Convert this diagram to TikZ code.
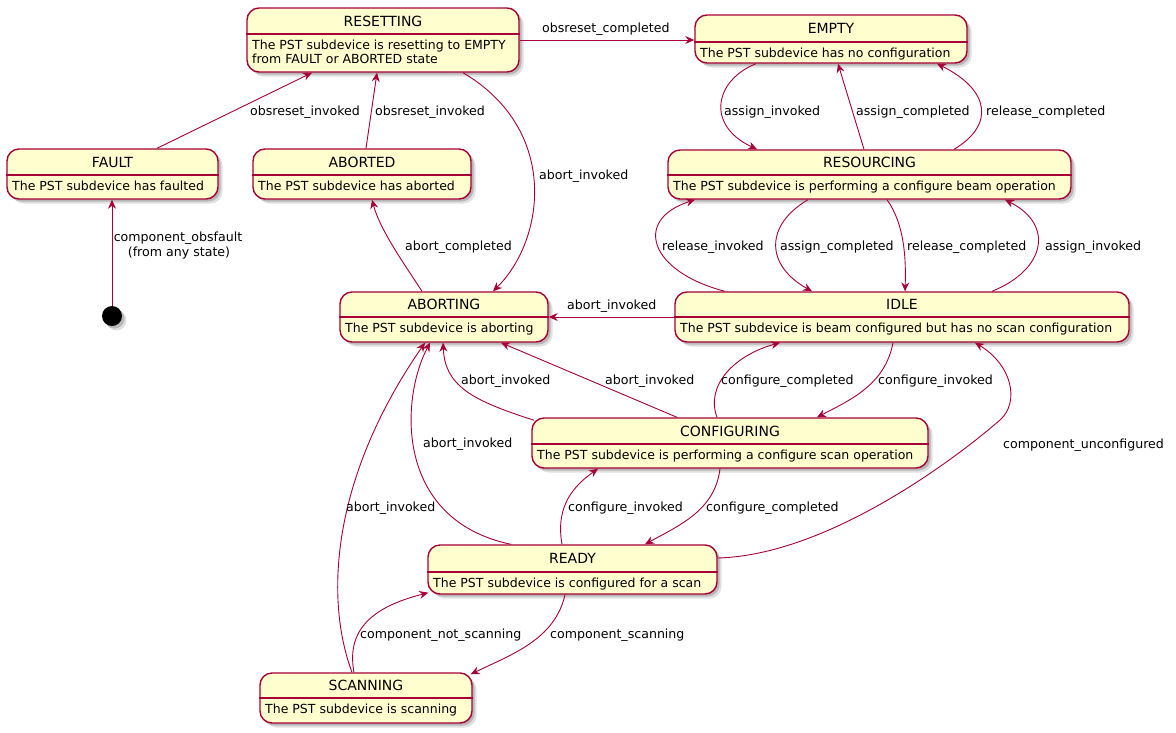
\documentclass[tikz,border=0pt]{standalone}
\usepackage{fontspec}
\setmainfont{DejaVu Sans}
\usetikzlibrary{arrows.meta,shadows}
\definecolor{stfill}{HTML}{FEFECE}
\definecolor{stline}{HTML}{A80036}
\tikzset{
 softshadow/.style={
   drop shadow={shadow xshift=4.5pt, shadow yshift=-4.5pt, opacity=0.12, fill=black},
   drop shadow={shadow xshift=2.5pt, shadow yshift=-2.5pt, opacity=0.18, fill=black}},
 statebox/.style={draw=stline, fill=stfill, line width=1.4pt, rounded corners=12pt, inner sep=0pt, softshadow},
 sepline/.style={draw=stline, line width=1.2pt},
 titletext/.style={font=\fontsize{14}{16}\selectfont, inner sep=0pt, anchor=base},
 bodytext/.style={font=\fontsize{12.5}{15}\selectfont, inner sep=0pt, anchor=base west},
 lbl/.style={font=\fontsize{12.6}{15}\selectfont, inner sep=0pt, anchor=base west},
 lblc/.style={font=\fontsize{12.6}{15}\selectfont, inner sep=0pt, anchor=base},
 conn/.style={draw=stline, line width=0.9pt, -{Stealth[length=9pt, width=8pt, inset=3pt]}},
 initdot/.style={circle, fill=black, minimum size=20pt, inner sep=0pt, softshadow},
}
\newcommand\stbox[8]{%
 \node[statebox, minimum width={(#4-#2)*1pt}, minimum height={(#5-#3)*1pt}] (#1) at ({(#2+#4)/2},{(#3+#5)/2}) {};
 \draw[sepline] (#1.west |- 0,#6) -- (#1.east |- 0,#6);
 \node[titletext] (#1-t) at ({(#2+#4)/2},{(#3+#6)/2+5.2}) {#7};
 \node[bodytext] (#1-b) at ({#2+5},{#6+15}) {#8};
}
\begin{document}
\begin{tikzpicture}[x=1pt, y=-1pt]
\useasboundingbox (0,0) rectangle (1176,732);
\fill[white] (0,0) rectangle (1176,732);

% states
\stbox{resetting}{247}{8}{519}{72}{34}{RESETTING}{The PST subdevice is resetting to EMPTY}
\node[bodytext] (resetting-b2) at (252,63.5) {from FAULT or ABORTED state};
\stbox{empty}{695}{15}{967}{63}{42}{EMPTY}{The PST subdevice has no configuration}
\stbox{fault}{7}{149}{218}{199}{175}{FAULT}{The PST subdevice has faulted}
\stbox{aborted}{253}{149}{471}{199}{175}{ABORTED}{The PST subdevice has aborted}
\stbox{resourcing}{668}{150}{1071}{199}{175}{RESOURCING}{The PST subdevice is performing a configure beam operation}
\stbox{aborting}{340}{292}{548}{342}{317}{ABORTING}{The PST subdevice is aborting}
\stbox{idle}{675}{292}{1129}{342}{317}{IDLE}{The PST subdevice is beam configured but has no scan configuration}
\stbox{configuring}{532}{418}{928}{468}{444}{CONFIGURING}{The PST subdevice is performing a configure scan operation}
\stbox{ready}{428}{545}{717}{594}{572}{READY}{The PST subdevice is configured for a scan}
\stbox{scanning}{260}{673}{472}{723}{698}{SCANNING}{The PST subdevice is scanning}
\node[initdot] (init) at (112,316) {};

% transitions
\draw[conn] (resetting.east) -- (empty.west |- resetting.east);
\draw[conn] (fault.north -| 157,0) -- (resetting.south -| 312,0);
\draw[conn] (aborted.north -| 366,0) -- (resetting.south -| 377,0);
\draw[conn] (resetting.south -| 463,0) .. controls (560,130) and (545,240) .. (aborting.north -| 493,0);
\draw[conn] (aborting.north -| 422,0) .. controls (405,265) and (380,230) .. (aborted.south -| 372,0);
\draw[conn] (init) -- (fault.south -| init);
\draw[conn] (empty.south -| 756,0) .. controls (715,80) and (705,125) .. (resourcing.north -| 757,0);
\draw[conn] (resourcing.north -| 864,0) -- (empty.south -| 838,0);
\draw[conn] (resourcing.north -| 954,0) .. controls (995,125) and (990,90) .. (empty.south -| 937,0);
\draw[conn] (idle.north -| 725,0) .. controls (650,272) and (632,220) .. (resourcing.south -| 695,0);
\draw[conn] (resourcing.south -| 808,0) .. controls (765,225) and (765,265) .. (idle.north -| 812,0);
\draw[conn] (resourcing.south -| 887,0) .. controls (905,225) and (906,260) .. (idle.north -| 905,0);
\draw[conn] (idle.north -| 992,0) .. controls (1045,270) and (1055,225) .. (resourcing.south -| 1005,0);
\draw[conn] (idle.west) -- (aborting.east);
\draw[conn] (idle.south -| 893,0) .. controls (885,385) and (850,400) .. (configuring.north -| 817,0);
\draw[conn] (configuring.north -| 717,0) .. controls (705,385) and (735,355) .. (idle.south -| 780,0);
\draw[conn] ([xshift=3pt,yshift=-3pt]configuring.north west) .. controls (470,400) and (445,385) .. (aborting.south -| 443,0);
\draw[conn] (configuring.north -| 677,0) -- (aborting.south -| 501,0);
\draw[conn] (ready.north -| 511,0) .. controls (395,520) and (400,400) .. (aborting.south -| 430,0);
\draw[conn] (scanning.north -| 352,0) .. controls (325,600) and (330,480) .. (aborting.south -| 425,0);
\draw[conn] (configuring.south -| 720,0) .. controls (715,510) and (680,525) .. (ready.north -| 645,0);
\draw[conn] (ready.north -| 562,0) .. controls (555,505) and (575,485) .. (configuring.south -| 598,0);
\draw[conn] (ready.east |- 0,558) .. controls (830,555) and (960,455) .. (1000,420) .. controls (1020,402) and (1012,365) .. (idle.south -| 975,0);
\draw[conn] (ready.south -| 565,0) .. controls (555,640) and (510,655) .. ([xshift=-2pt,yshift=-2pt]scanning.north east);
\draw[conn] (scanning.north -| 354,0) .. controls (345,625) and (380,605) .. ([xshift=1pt,yshift=2pt]ready.south west);

% labels
\node[lbl] (l1) at (542,32) {obsreset\_completed};
\node[lbl] (l2) at (250,115) {obsreset\_invoked};
\node[lbl] (l3) at (375,115) {obsreset\_invoked};
\node[lbl] (l4) at (539,179) {abort\_invoked};
\node[lbl] (l5) at (405,250) {abort\_completed};
\node[lblc] (l6a) at (178,241.5) {component\_obsfault};
\node[lblc] (l6b) at (179,256.5) {(from any state)};
\node[lbl] (l7) at (724,115) {assign\_invoked};
\node[lbl] (l8) at (856,115) {assign\_completed};
\node[lbl] (l9) at (986,115) {release\_completed};
\node[lbl] (l10) at (662,250.5) {release\_invoked};
\node[lbl] (l11) at (780,250.5) {assign\_completed};
\node[lbl] (l12) at (907,250.5) {release\_completed};
\node[lbl] (l13) at (1045,250.5) {assign\_invoked};
\node[lbl] (l14) at (567,309) {abort\_invoked};
\node[lbl] (l15) at (878,384) {configure\_invoked};
\node[lbl] (l16) at (721,384) {configure\_completed};
\node[lbl] (l17) at (461,384) {abort\_invoked};
\node[lbl] (l18) at (605,384) {abort\_invoked};
\node[lbl] (l19) at (423,447.5) {abort\_invoked};
\node[lbl] (l20) at (346,511) {abort\_invoked};
\node[lbl] (l21) at (706,511) {configure\_completed};
\node[lbl] (l22) at (568,511) {configure\_invoked};
\node[lbl] (l23) at (1003,448) {component\_unconfigured};
\node[lbl] (l24) at (550,638) {component\_scanning};
\node[lbl] (l25) at (360,638) {component\_not\_scanning};
\end{tikzpicture}
\end{document}
